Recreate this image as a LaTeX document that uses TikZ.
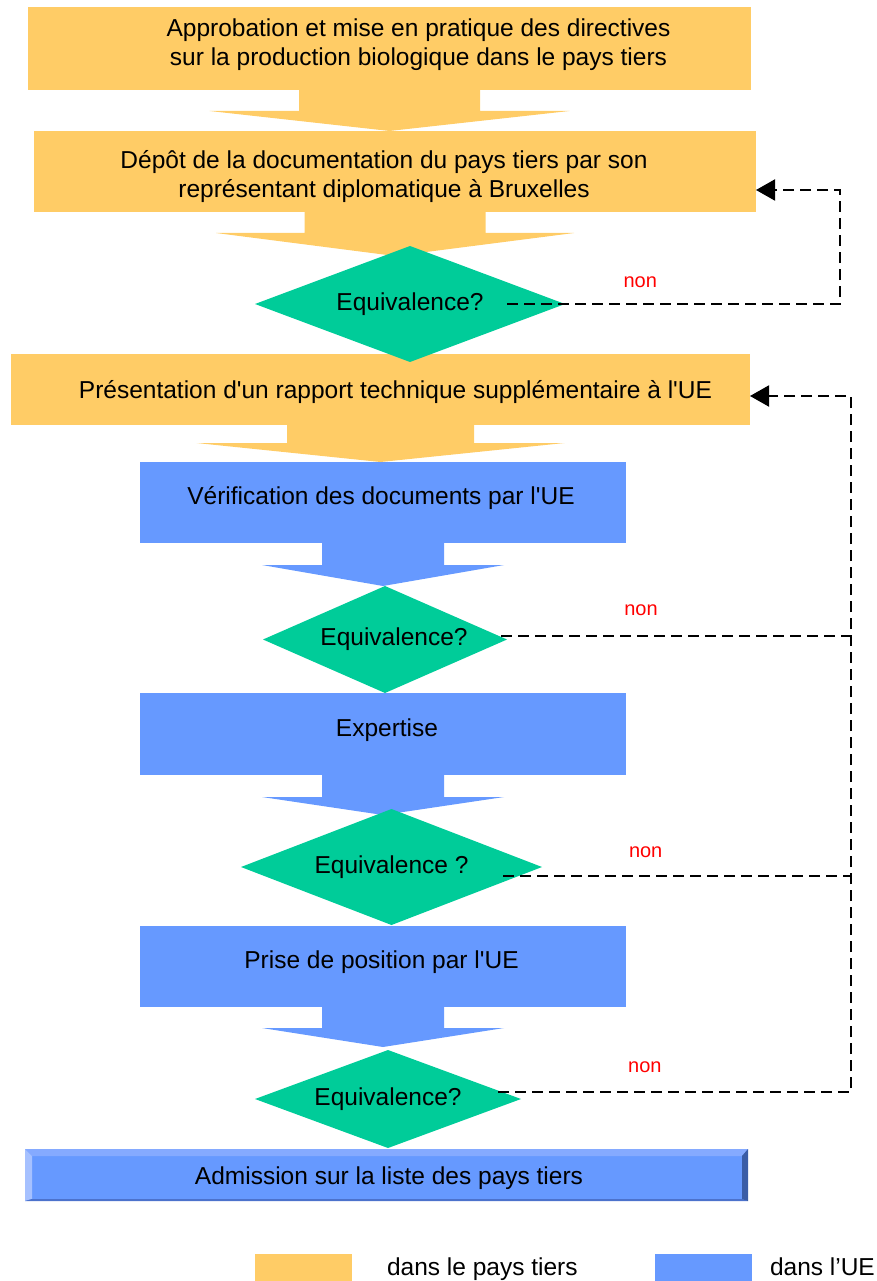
\documentclass[tikz,border=0pt]{standalone}
\usepackage{fontspec}
\setmainfont{Liberation Sans}[Ligatures=TeXOff]
\usetikzlibrary{arrows.meta,calc,shapes.geometric}

\definecolor{paysorange}{HTML}{FFCC66}
\definecolor{uebleu}{HTML}{6699FF}
\definecolor{decvert}{HTML}{00CC99}
\definecolor{bevhaut}{HTML}{85AAFF}
\definecolor{bevgauche}{HTML}{A6C1FF}
\definecolor{bevdroite}{HTML}{3B5DA6}
\definecolor{bevbas}{HTML}{4C72CC}

% block arrow hanging under a box:
% colour, source box, tip point, stem half width, head half width, stem length
\newcommand\blocarrow[6]{%
  \fill[#1] let \p1=(#2.south), \p2=(#3) in
    (\x1-#4pt,\y1) -- (\x1+#4pt,\y1) -- (\x1+#4pt,\y1-#6pt) -- (\x1+#5pt,\y1-#6pt)
    -- (\x1,\y2) -- (\x1-#5pt,\y1-#6pt) -- (\x1-#4pt,\y1-#6pt) -- cycle;}

\tikzset{
  box/.style={anchor=north west, inner sep=0pt, outer sep=0pt, draw=none},
  txt/.style={font=\fontsize{24.5}{29}\selectfont, align=center, inner sep=0pt, outer sep=0pt},
  decision/.style={diamond, fill=decvert, inner sep=0pt, outer sep=0pt, shape aspect=2.6,
                   font=\fontsize{24.5}{29}\selectfont},
  dashline/.style={black, line width=2pt, dash pattern=on 11pt off 6pt},
  loopend/.style={-{Triangle[length=19pt,width=21pt]}},
  nonlab/.style={red, font=\fontsize{20}{24}\selectfont, inner sep=0pt}
}

\begin{document}
\begin{tikzpicture}[x=1pt, y=-1pt]
\useasboundingbox (0,0) rectangle (876,1281);

% process boxes
\node[box, fill=paysorange, minimum width=723pt, minimum height=83pt] (A) at (28,7) {};
\node[box, fill=paysorange, minimum width=722pt, minimum height=81pt] (B) at (34,131) {};
\node[box, fill=paysorange, minimum width=739pt, minimum height=71pt] (C) at (11,354) {};
\node[box, fill=uebleu, minimum width=486pt, minimum height=81pt] (D) at (140,462) {};
\node[box, fill=uebleu, minimum width=486pt, minimum height=82pt] (E) at (140,693) {};
\node[box, fill=uebleu, minimum width=486pt, minimum height=81pt] (F) at (140,926) {};

% final bevelled box
\node[box, fill=uebleu, minimum width=723pt, minimum height=52pt] (G) at (25,1149) {};
\fill[bevhaut] (G.north west) -- (G.north east) -- ($(G.north east)+(-6,7)$) -- ($(G.north west)+(7,7)$) -- cycle;
\fill[bevgauche] (G.north west) -- ($(G.north west)+(7,7)$) -- ($(G.south west)+(7,-2)$) -- (G.south west) -- cycle;
\fill[bevbas] (G.south west) -- (G.south east) -- ($(G.south east)+(-6,-2)$) -- ($(G.south west)+(7,-2)$) -- cycle;
\fill[bevdroite] (G.north east) -- ($(G.north east)+(-6,7)$) -- ($(G.south east)+(-6,-2)$) -- (G.south east) -- cycle;

% box texts
\node[txt] (tA) at ($(A.center)+(29,-4)$) {Approbation et mise en pratique des directives\\sur la production biologique dans le pays tiers};
\node[txt] (tB) at ($(B.center)+(-11,5)$) {Dépôt de la documentation du pays tiers par son\\représentant diplomatique à Bruxelles};
\node[txt] (tC) at ($(C.center)+(15,2.5)$) {Présentation d'un rapport technique supplémentaire à l'UE};
\node[txt] (tD) at ($(D.center)+(-2,-4.5)$) {Vérification des documents par l'UE};
\node[txt] (tE) at ($(E.center)+(4,-4)$) {Expertise};
\node[txt] (tF) at ($(F.center)+(-1.5,-4.5)$) {Prise de position par l'UE};
\node[txt] (tG) at ($(G.center)+(2.5,3)$) {Admission sur la liste des pays tiers};

% decision diamonds (positions only, drawn after the block arrows)
\path (410,304) coordinate (c1) (385,639.5) coordinate (c2)
      (391.5,867) coordinate (c3) (388,1099) coordinate (c4);
\path (c1) ++(0,-58) coordinate (top1) (c2) ++(0,-53.5) coordinate (top2)
      (c3) ++(0,-58) coordinate (top3) (c4) ++(0,-49) coordinate (top4);

% block arrows between steps
\blocarrow{paysorange}{A}{B.north}{90.5}{180}{21}
\blocarrow{paysorange}{B}{$(top1)+(0,10)$}{90.5}{179}{21}
\blocarrow{paysorange}{C}{D.north}{93.5}{184}{18}
\blocarrow{uebleu}{D}{top2}{61}{121}{22}
\blocarrow{uebleu}{E}{$(top3)+(0,6)$}{61}{121}{22}
\blocarrow{uebleu}{F}{$(top4)+(0,-3)$}{61}{121}{21}

\node[decision, minimum width=310pt, minimum height=116pt] (d1) at (c1) {\\[-2pt]Equivalence?};
\node[decision, minimum width=244pt, minimum height=107pt] (d2) at (c2) {\hspace*{18pt}Equivalence?};
\node[decision, minimum width=301pt, minimum height=116pt] (d3) at (c3) {Equivalence ?\\[4pt]};
\node[decision, minimum width=266pt, minimum height=98pt] (d4) at (c4) {Equivalence?};

% "non" feedback loops
\coordinate (bus) at (851,0);
\coordinate (s1) at ($(d1.center)+(97,0)$);
\coordinate (s2) at ($(d2.center)+(116,-3.5)$);
\coordinate (s3) at ($(d3.center)+(111.5,9)$);
\coordinate (s4) at ($(d4.center)+(110,-7)$);

\draw[dashline, loopend] (s1) -- node[nonlab, pos=0.40, yshift=22pt] (n1) {non}
  ($(s1)+(333,0)$) |- ($(B.east)+(0,18.5)$);
\draw[dashline] (s2) -- node[nonlab, pos=0.40, yshift=26pt] (n2) {non} (s2 -| bus);
\draw[dashline] (s3) -- node[nonlab, pos=0.41, yshift=24pt] (n3) {non} (s3 -| bus);
\draw[dashline, loopend] (s4) -- node[nonlab, pos=0.416, yshift=25pt] (n4) {non}
  (s4 -| bus) |- ($(C.east)+(0,6.5)$);

% legend
\node[box, fill=paysorange, minimum width=97pt, minimum height=28pt] (kp) at (255,1254) {};
\node[txt, anchor=base west] (lp) at ($(kp.north east)+(35,21)$) {dans le pays tiers};
\node[box, fill=uebleu, minimum width=97pt, minimum height=28pt] (ku) at (655,1254) {};
\node[txt, anchor=base west] (lu) at ($(ku.north east)+(18,21)$) {dans l’UE};
\end{tikzpicture}
\end{document}
